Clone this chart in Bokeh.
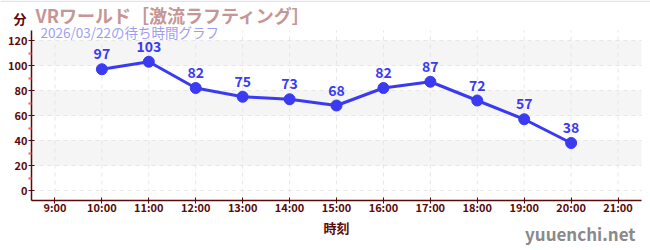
from bokeh.plotting import figure
from bokeh.models import ColumnDataSource, Label, Range1d, FixedTicker, BoxAnnotation
from bokeh.embed import file_html
from bokeh.resources import INLINE
from bokeh.core.properties import value

hours = [10, 11, 12, 13, 14, 15, 16, 17, 18, 19, 20]
waits = [97, 103, 82, 75, 73, 68, 82, 87, 72, 57, 38]
xticks = [9, 10, 11, 12, 13, 14, 15, 16, 17, 18, 19, 20, 21]
xtick_labels = {h: f"{h}:00" for h in xticks}
yticks = [0, 20, 40, 60, 80, 100, 120]
title_text = "VRワールド［激流ラフティング］"
subtitle_text = "2026/03/22の待ち時間グラフ"
unit_text = "分"
xlabel_text = "時刻"
watermark = "yuuenchi.net"

FONT = "Noto Sans CJK JP"
AXC = "#5a0a0a"
BLUE = "#3a3af2"

# plot area spans x 8.5..21.5 over px 31..641 and y -8..128 over px 200..30;
# the frame covers the whole 650x250 page so outside texts are not clipped
X0, X1, Y0, Y1 = 8.5, 21.5, -8, 128
kx = (X1 - X0) / 610.0
ky = (Y1 - Y0) / 170.0
p = figure(width=650, height=250, output_backend="svg", toolbar_location=None,
           x_range=Range1d(X0 - 31 * kx, X1 + 9 * kx),
           y_range=Range1d(Y0 - 50 * ky, Y1 + 30 * ky),
           min_border=0)
p.outline_line_color = None
p.background_fill_color = "white"
p.border_fill_color = "white"
p.xgrid.visible = False
p.ygrid.visible = False

for lo in [20, 60, 100]:
    p.add_layout(BoxAnnotation(left=X0, right=X1, bottom=lo, top=lo + 20,
                               fill_color="#f5f5f5", fill_alpha=1, line_color=None, level="underlay"))

# dashed grid lines limited to the plot area
p.segment(x0=xticks, x1=xticks, y0=[Y0] * len(xticks), y1=[Y1] * len(xticks),
          line_color="#e6e6e6", line_dash="4 4", line_width=1)
p.segment(x0=[X0] * len(yticks), x1=[X1] * len(yticks), y0=yticks, y1=yticks,
          line_color="#e6e6e6", line_dash="4 4", line_width=1)

p.xaxis.fixed_location = Y0
p.xaxis.bounds = (X0, X1)
p.yaxis.fixed_location = X0
p.yaxis.bounds = (Y0, Y1)
p.xaxis.ticker = FixedTicker(ticks=xticks)
p.xaxis.major_label_overrides = xtick_labels
p.yaxis.ticker = FixedTicker(ticks=yticks, minor_ticks=[10, 30, 50, 70, 90, 110])
for ax in (p.xaxis, p.yaxis):
    ax.axis_line_color = AXC
    ax.axis_line_width = 1.5
    ax.major_tick_line_color = AXC
    ax.major_tick_in = 3
    ax.major_tick_out = 3
    ax.major_label_text_color = AXC
    ax.major_label_text_font = FONT
    ax.major_label_text_font_style = "bold"
    ax.major_label_text_font_size = "11px"
    ax.major_label_standoff = 1
p.xaxis.major_label_standoff = -5
p.xaxis.minor_tick_line_color = None
p.yaxis.minor_tick_line_color = "#ff6060"
p.yaxis.minor_tick_in = 0
p.yaxis.minor_tick_out = 3
p.yaxis.minor_tick_line_width = 2
p.xaxis.axis_label = xlabel_text
p.xaxis.axis_label_text_color = AXC
p.xaxis.axis_label_text_font = FONT
p.xaxis.axis_label_text_font_style = "bold"
p.xaxis.axis_label_text_font_size = "13px"
p.xaxis.axis_label_standoff = 0

src = ColumnDataSource(dict(x=hours, y=waits, t=[str(v) for v in waits]))
p.line("x", "y", source=src, line_color=BLUE, line_width=3)
p.scatter("x", "y", source=src, size=11, fill_color=BLUE, line_color=BLUE)
p.text("x", "y", text="t", source=src, text_font=value(FONT), text_font_style="bold",
       text_font_size="14px", text_color=BLUE, text_align="center", text_baseline="bottom",
       y_offset=-10)

# canvas units: measured from the page's top-left corner
def clabel(x, y, text, **kw):
    p.add_layout(Label(x=x, y=y, x_units="canvas", y_units="canvas", text=text,
                       text_font=FONT, text_baseline="middle", **kw))

clabel(13, 18, unit_text, text_font_style="bold", text_font_size="13px", text_color=AXC)
clabel(35, 14, title_text, text_font_style="bold", text_font_size="18px", text_color="#c69696")
clabel(40, 31, subtitle_text, text_font_size="13.5px", text_color="#9e9ef0")
clabel(635, 233, watermark, text_font_style="bold", text_font_size="17px", text_color="#8a8a8a", text_align="right")

# thin lavender line across the top of the page
p.add_layout(BoxAnnotation(left=0, right=650, top=0, bottom=1.5,
                           left_units="canvas", right_units="canvas", top_units="canvas", bottom_units="canvas",
                           fill_color="#e2e2f8", fill_alpha=1, line_color=None, level="overlay"))

open("out.html", "w").write(file_html(p, INLINE))
